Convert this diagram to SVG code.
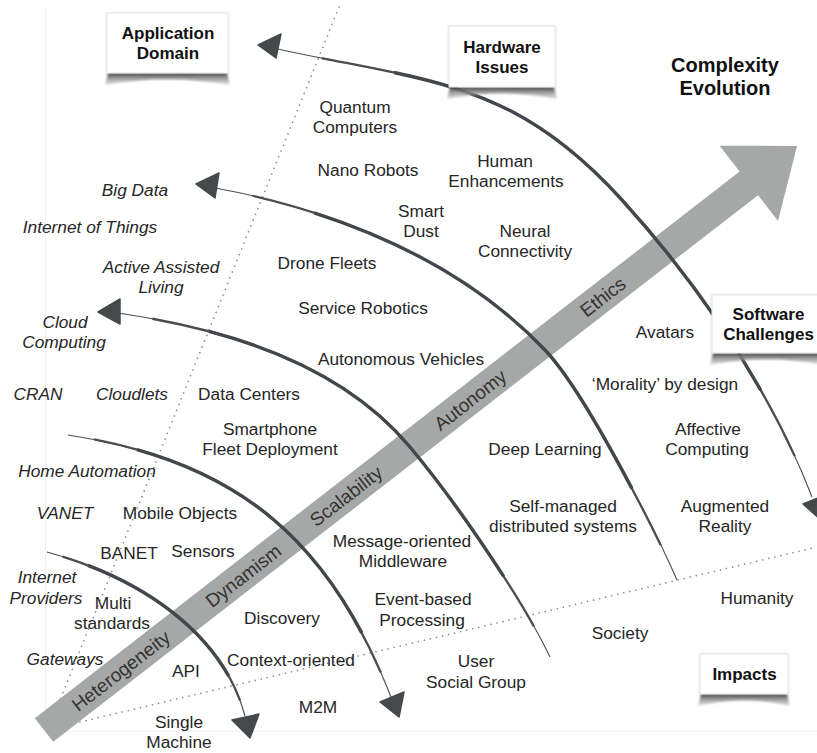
<svg xmlns="http://www.w3.org/2000/svg" width="817" height="753" viewBox="0 0 817 753">
<defs>
<style>
.t{font-family:"Liberation Sans",Arial,sans-serif;font-size:17.3px;fill:#262626;text-anchor:middle}
.i{font-style:italic}
.bt{font-family:"Liberation Sans",Arial,sans-serif;font-size:19px;fill:#333;text-anchor:middle}
.h{font-family:"Liberation Sans",Arial,sans-serif;font-size:17px;font-weight:bold;fill:#111;text-anchor:middle}
.ttl{font-family:"Liberation Sans",Arial,sans-serif;font-size:20px;font-weight:bold;fill:#111;text-anchor:middle}
.dot{fill:none;stroke:#8e8e8e;stroke-width:1.7;stroke-linecap:round;stroke-dasharray:0.01 6.2}
.a1{fill:none;stroke:#4a4d51;stroke-width:1.1;stroke-linecap:butt}
.a2{fill:none;stroke:#4a4d51;stroke-width:2.3;stroke-linecap:butt;stroke-dasharray:88 12;stroke-dashoffset:-6}
.a3{fill:none;stroke:#43464a;stroke-width:3.4;stroke-linecap:butt;stroke-dasharray:68 32;stroke-dashoffset:-16}
.head{fill:#46494c;stroke:#46494c;stroke-width:1.5;stroke-linejoin:round}
.box{fill:#fff;stroke:#e4e4e4;stroke-width:1;filter:url(#ds)}
.shd{fill:url(#sg);filter:url(#bl)}
</style>
<linearGradient id="sg" x1="0" y1="0" x2="0" y2="1">
<stop offset="0" stop-color="#4a4a4a"/>
<stop offset="1" stop-color="#d0d0d0" stop-opacity="0.6"/>
</linearGradient>
<filter id="bl" x="-10%" y="-50%" width="120%" height="200%"><feGaussianBlur stdDeviation="1.2"/></filter>
<filter id="ds" x="-10%" y="-10%" width="120%" height="130%"><feDropShadow dx="0" dy="0.5" stdDeviation="1.2" flood-color="#000" flood-opacity="0.18"/></filter>
</defs>
<rect width="817" height="753" fill="#fff"/>
<g id="frame" stroke="#f0f0f0" stroke-width="1">
<line x1="45.5" y1="8" x2="45.5" y2="731"/>
<line x1="45" y1="731.5" x2="817" y2="731.5"/>
</g>
<g id="dotted">
<line class="dot" x1="339" y1="7" x2="58" y2="705"/>
<line class="dot" x1="80" y1="722" x2="817" y2="547"/>
</g>
<g id="band" transform="translate(44,730) rotate(-37.8)">
<path d="M0,-15 L892,-15 L892,-47.6 L953,0 L892,47.6 L892,15 L0,15 Z" fill="#a5a8a6"/>
<text class="bt" x="97" y="7">Heterogeneity</text>
<text class="bt" x="252" y="7">Dynamism</text>
<text class="bt" x="382" y="7">Scalability</text>
<text class="bt" x="539" y="7">Autonomy</text>
<text class="bt" x="707" y="7">Ethics</text>
</g>
<g id="connectors">
<g id="arc1">
<path class="a1" d="M278,49 C428,82 512,79 622,200 C672,255 762,367 812,497"/>
<path class="a2" pathLength="100" d="M278,49 C428,82 512,79 622,200 C672,255 762,367 812,497"/>
<path class="a3" pathLength="100" d="M278,49 C428,82 512,79 622,200 C672,255 762,367 812,497"/>
<polygon class="head" points="258,45 281,34 276,58"/>
<polygon class="head" points="821,520 803,504 823,496"/>
</g>
<g id="arc2">
<path class="a1" d="M215,188 C325,208 455,255.5 545,350 C585,392 657,534 677,580"/>
<path class="a2" pathLength="100" d="M215,188 C325,208 455,255.5 545,350 C585,392 657,534 677,580"/>
<path class="a3" pathLength="100" d="M215,188 C325,208 455,255.5 545,350 C585,392 657,534 677,580"/>
<polygon class="head" points="196,184 219,173 215,198"/>
</g>
<g id="arc3">
<path class="a1" d="M118,313 C228,329.5 340,363 410,447 C450,495 520,594 550,657"/>
<path class="a2" pathLength="100" d="M118,313 C228,329.5 340,363 410,447 C450,495 520,594 550,657"/>
<path class="a3" pathLength="100" d="M118,313 C228,329.5 340,363 410,447 C450,495 520,594 550,657"/>
<polygon class="head" points="98,312 120,299 120,324"/>
</g>
<g id="arc4">
<path class="a1" d="M68,435 C248,462 333,550 391,697"/>
<path class="a2" pathLength="100" d="M68,435 C248,462 333,550 391,697"/>
<path class="a3" pathLength="100" d="M68,435 C248,462 333,550 391,697"/>
<polygon class="head" points="380,702 404,692 399,717"/>
</g>
<g id="arc5">
<path class="a1" d="M47,552 C150,580 225,640 245,716"/>
<path class="a2" pathLength="100" d="M47,552 C150,580 225,640 245,716"/>
<path class="a3" pathLength="100" d="M47,552 C150,580 225,640 245,716"/>
<polygon class="head" points="232,720 259,714 250,738"/>
</g>
</g>
<g id="labels">
<text class="t" x="355" y="113">Quantum</text>
<text class="t" x="355" y="133">Computers</text>
<text class="t" x="368" y="176">Nano Robots</text>
<text class="t" x="505" y="167">Human</text>
<text class="t" x="506" y="187">Enhancements</text>
<text class="t" x="421" y="217">Smart</text>
<text class="t" x="421" y="237">Dust</text>
<text class="t" x="525" y="237">Neural</text>
<text class="t" x="525" y="257">Connectivity</text>
<text class="t i" x="135" y="196">Big Data</text>
<text class="t i" x="90" y="233">Internet of Things</text>
<text class="t i" x="161" y="273">Active Assisted</text>
<text class="t i" x="161" y="293">Living</text>
<text class="t" x="327" y="269">Drone Fleets</text>
<text class="t" x="363" y="314">Service Robotics</text>
<text class="t i" x="65" y="328">Cloud</text>
<text class="t i" x="64" y="348">Computing</text>
<text class="t" x="401" y="365">Autonomous Vehicles</text>
<text class="t i" x="38" y="400">CRAN</text>
<text class="t i" x="132" y="400">Cloudlets</text>
<text class="t" x="249" y="400">Data Centers</text>
<text class="t" x="270" y="435">Smartphone</text>
<text class="t" x="270" y="455">Fleet Deployment</text>
<text class="t i" x="87" y="477">Home Automation</text>
<text class="t i" x="65" y="519">VANET</text>
<text class="t" x="180" y="519">Mobile Objects</text>
<text class="t" x="129" y="559">BANET</text>
<text class="t" x="203" y="557">Sensors</text>
<text class="t i" x="47" y="583">Internet</text>
<text class="t i" x="46" y="604">Providers</text>
<text class="t" x="113" y="609">Multi</text>
<text class="t" x="112" y="629">standards</text>
<text class="t" x="282" y="624">Discovery</text>
<text class="t i" x="65" y="665">Gateways</text>
<text class="t" x="186" y="677">API</text>
<text class="t" x="291" y="666">Context-oriented</text>
<text class="t" x="318" y="713">M2M</text>
<text class="t" x="179" y="728">Single</text>
<text class="t" x="179" y="748">Machine</text>
<text class="t" x="402" y="547">Message-oriented</text>
<text class="t" x="403" y="567">Middleware</text>
<text class="t" x="423" y="605">Event-based</text>
<text class="t" x="422" y="626">Processing</text>
<text class="t" x="476" y="667">User</text>
<text class="t" x="476" y="688">Social Group</text>
<text class="t" x="620" y="639">Society</text>
<text class="t" x="757" y="604">Humanity</text>
<text class="t" x="545" y="455">Deep Learning</text>
<text class="t" x="563" y="512">Self-managed</text>
<text class="t" x="563" y="532">distributed systems</text>
<text class="t" x="725" y="512">Augmented</text>
<text class="t" x="725" y="532">Reality</text>
<text class="t" x="665" y="338">Avatars</text>
<text class="t" x="665" y="390">‘Morality’ by design</text>
<text class="t" x="708" y="435">Affective</text>
<text class="t" x="707" y="455">Computing</text>
</g>
<g id="title">
<text class="ttl" x="725" y="72">Complexity</text>
<text class="ttl" x="725" y="95">Evolution</text>
</g>
<g id="box-application">
<path class="shd" d="M108,73 L227,73 L230,85 Q167.5,74 105,85 Z"/>
<rect class="box" x="107" y="13" width="121" height="60"/>
<text class="h" x="168" y="39">Application</text>
<text class="h" x="168" y="59">Domain</text>
</g>
<g id="box-hardware">
<path class="shd" d="M450,87 L554,87 L557,99 Q502,88 447,99 Z"/>
<rect class="box" x="449" y="26" width="106" height="61"/>
<text class="h" x="502" y="53">Hardware</text>
<text class="h" x="502" y="73">Issues</text>
</g>
<g id="box-software">
<path class="shd" d="M713,353 L822,353 L825,365 Q768,354 710,365 Z"/>
<rect class="box" x="712" y="295" width="110" height="58"/>
<text class="h" x="768.5" y="320">Software</text>
<text class="h" x="768.5" y="340">Challenges</text>
</g>
<g id="box-impacts">
<path class="shd" d="M701,694 L787,694 L790,706 Q744,695 698,706 Z"/>
<rect class="box" x="700" y="654" width="88" height="40"/>
<text class="h" x="744.5" y="680">Impacts</text>
</g>
</svg>
